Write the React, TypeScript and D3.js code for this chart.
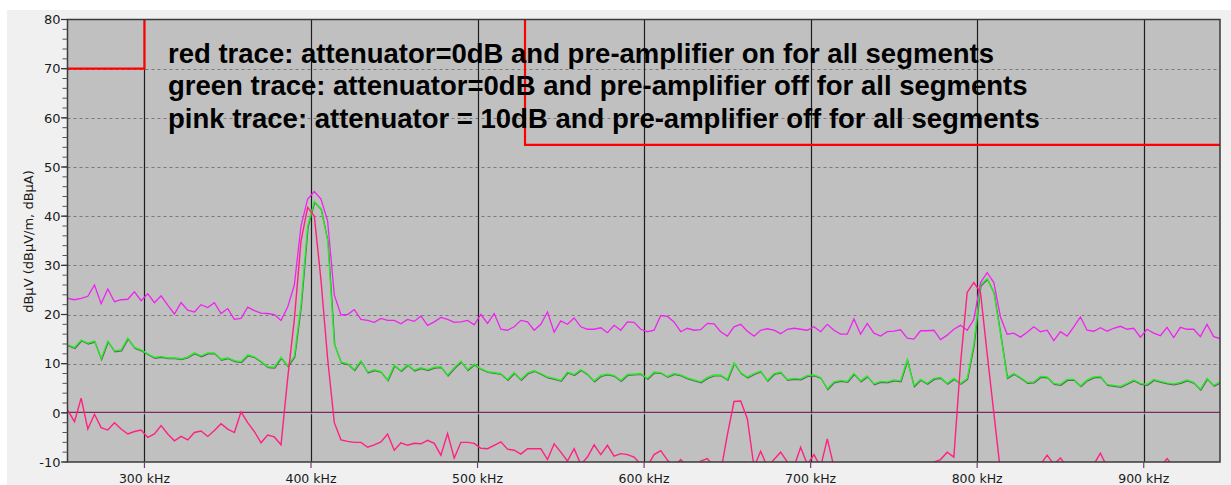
import React from "react";
import * as d3 from "d3";

const FREQ_START = 254;
const FREQ_STEP = 4;

const magentaTrace = [
  23.3, 23.0, 23.3, 23.7, 26.0, 22.2, 25.2, 22.6, 23.0, 23.1, 24.6, 22.8, 24.2, 22.4, 23.8, 21.9, 20.1, 22.4, 20.9, 20.5,
  22.0, 21.4, 22.4, 20.2, 21.2, 19.0, 19.2, 21.5, 20.8, 20.3, 20.2, 20.0, 18.8, 21.5, 26.0, 38.0, 43.5, 45.0, 43.5, 39.0,
  24.0, 19.9, 20.0, 21.0,
  19.0, 18.8, 18.4, 19.2, 18.8, 18.8, 18.1, 19.0, 18.6, 19.7, 17.8, 18.5, 19.4, 19.0, 18.4, 18.5, 18.8, 17.9, 20.0, 18.2,
  20.2, 17.0, 16.8, 17.5, 18.8, 18.5, 16.8, 18.0, 20.5, 16.4, 18.7, 18.0, 19.3, 17.5, 17.0, 17.0, 17.3, 16.3, 17.8, 16.8,
  18.5, 18.4, 17.0,
  16.5, 16.8, 19.8, 19.6, 18.5, 16.5, 17.2, 16.8, 16.9, 18.2, 18.1, 16.5, 15.6, 17.5, 18.0, 16.6, 15.6, 16.8, 17.1, 16.8,
  16.1, 17.0, 17.2, 17.0, 16.8, 17.5, 16.5, 18.0, 16.8, 16.0, 16.0, 19.1, 16.0, 18.2, 16.2, 15.6, 16.5, 16.6, 16.9, 15.2,
  15.0, 16.7, 16.7,
  16.8, 14.9, 15.8, 17.0, 17.8, 16.8, 19.0, 26.5, 28.5, 26.5, 19.5, 16.0, 16.2, 15.4, 16.4, 17.5, 16.5, 16.8, 14.7, 16.5,
  15.6, 17.5, 19.5, 16.8, 16.6, 17.3, 16.6, 17.2, 17.6, 17.0, 17.2, 15.4, 17.0, 16.2, 15.7, 17.4, 15.3, 17.4, 17.0, 17.0,
  15.5, 18.0, 15.5, 15.1,
];

const greenTrace = [
  13.8, 13.3, 14.8, 14.2, 14.6, 11.0, 14.6, 12.6, 12.8, 15.2, 13.3, 12.8, 12.0, 11.3, 11.5, 11.2, 11.2, 11.0, 11.4, 12.2,
  11.6, 12.2, 12.2, 10.9, 11.2, 10.6, 10.4, 11.8, 11.4, 10.5, 9.4, 9.3, 11.3, 9.6, 11.5, 22.0, 38.0, 43.0, 41.5, 35.0,
  14.0, 10.3, 10.0, 8.8,
  10.6, 8.3, 8.8, 8.4, 6.7, 9.7, 8.6, 9.8, 8.7, 9.2, 8.8, 9.3, 9.4, 7.7, 9.2, 10.5, 8.8, 9.9, 9.0, 8.4,
  8.2, 8.0, 6.8, 8.2, 6.8, 8.1, 8.6, 8.0, 7.3, 7.0, 6.6, 8.3, 7.8, 8.8, 7.9, 6.5, 7.6, 7.9, 7.6, 6.6,
  7.8, 7.9, 8.0,
  7.0, 8.3, 8.2, 7.4, 8.0, 7.7, 7.1, 6.7, 6.3, 7.2, 7.7, 7.7, 6.8, 10.2, 8.2, 7.3, 8.0, 8.5, 6.6, 8.0,
  8.3, 6.8, 7.0, 6.9, 7.6, 7.7, 7.2, 4.9, 6.3, 6.6, 6.4, 8.0, 6.5, 7.5, 5.9, 6.4, 6.3, 6.7, 6.5, 10.8,
  5.5, 6.8, 6.0,
  7.0, 7.2, 6.0, 7.0, 6.0, 7.0, 14.0, 26.0, 27.3, 24.5, 16.0, 7.2, 8.0, 7.2, 6.2, 6.3, 7.4, 7.3, 6.0, 5.8,
  6.8, 6.8, 5.5, 6.7, 7.3, 7.4, 5.8, 5.6, 5.4, 6.0, 6.7, 6.0, 5.8, 6.8, 6.4, 6.1, 5.9, 6.2, 6.7, 6.2,
  4.8, 7.0, 5.6, 6.3,
];

const pinkTrace = [
  0.5, -1.8, 3.0, -3.3, -0.3, -3.0, -3.5, -2.0, -3.3, -4.3, -3.8, -3.5, -5.0, -4.3, -2.6, -4.3, -5.7, -4.8, -5.5, -4.0,
  -3.7, -4.8, -3.6, -2.2, -3.3, -4.0, 0.2, -2.0, -3.8, -6.1, -4.5, -4.9, -6.5, 7.0, 19.0, 35.0, 41.8, 40.0, 27.0, 11.0,
  -2.0, -5.5, -5.8, -6.0,
  -6.0, -7.0, -6.5, -5.9, -4.3, -7.6, -6.1, -6.6, -6.2, -6.3, -5.6, -6.2, -8.6, -4.2, -9.2, -6.0, -6.0, -6.2, -7.2, -7.3,
  -6.6, -5.9, -7.4, -7.6, -8.4, -7.3, -7.3, -7.3, -9.5, -6.3, -8.0, -9.8, -7.3, -10.5, -9.0, -6.5, -8.5, -6.6, -8.8, -8.3,
  -8.5, -9.0, -10.5,
  -10.8, -8.5, -7.7, -9.6, -11, -9.5, -11, -11, -9.8, -9.3, -11, -12, -4.5, 2.3, 2.4, -1.2, -11, -7.8, -11, -9.5,
  -8.0, -10, -11, -7.0, -10.5, -8.5, -11, -5.3, -11, -10.5, -11, -11, -10.5, -11, -11, -11.5, -11, -11, -11, -11,
  -11, -11, -11,
  -10, -9.5, -8.0, -9.0, 10, 24.5, 26.5, 24.5, 12, 0, -12, -12, -11, -11, -11, -11, -10.5, -8.6, -10.5, -9.2,
  -11, -11, -10.3, -11, -10.5, -8.2, -11, -11, -11, -11, -11, -11, -11, -11, -11, -9.3, -11, -11, -11, -11,
  -11, -11, -11, -11,
];

const xTicks = [300, 400, 500, 600, 700, 800, 900];
const xTickLabels = ["300 kHz", "400 kHz", "500 kHz", "600 kHz", "700 kHz", "800 kHz", "900 kHz"];
const yTicks = [-10, 0, 10, 20, 30, 40, 50, 60, 70, 80];
const yMinorTicks = d3.range(-10, 81, 2);
const yLabel = "dBµV (dBµV/m, dBµA)";

const limitLeft = [
  [253.8, 70],
  [300, 70],
  [300, 80],
];
const limitRight = [
  [528.5, 80],
  [528.5, 54.5],
  [945.8, 54.5],
];

const annotations = [
  "red trace: attenuator=0dB and pre-amplifier on for all segments",
  "green trace: attenuator=0dB and pre-amplifier off for all segments",
  "pink trace: attenuator = 10dB and pre-amplifier off for all segments",
];

const W = 1231;
const H = 485;
const L = 67.5;
const R = 1220;
const T = 19.5;
const B = 462;

export default function App() {
  const x = d3.scaleLinear().domain([253.8, 945.8]).range([L, R]);
  const y = d3.scaleLinear().domain([-10, 80]).range([B, T]);
  const freqs = magentaTrace.map((_, i) => FREQ_START + i * FREQ_STEP);
  const line = d3
    .line<number>()
    .x((_, i) => x(freqs[i]))
    .y((d) => y(d));
  const lim = d3
    .line<number[]>()
    .x((d) => x(d[0]))
    .y((d) => y(d[1]));

  return (
    <svg
      width={W}
      height={H}
      style={{ position: "absolute", left: 0, top: 0 }}
      fontFamily="'DejaVu Sans', sans-serif"
    >
      <defs>
        <clipPath id="plotclip">
          <rect x={L} y={T} width={R - L} height={B - T} />
        </clipPath>
      </defs>
      <rect x={0} y={0} width={W} height={H} fill="#ffffff" />
      <rect x={7} y={10} width={W - 7} height={H - 10} fill="#f0f0f0" />
      <rect x={L} y={T} width={R - L} height={B - T} fill="#c0c0c0" />

      {/* horizontal dashed grid */}
      {yTicks
        .filter((t) => t !== -10 && t !== 80 && t !== 0)
        .map((t) => (
          <line
            key={"hg" + t}
            x1={L}
            x2={R}
            y1={Math.round(y(t)) + 0.5}
            y2={Math.round(y(t)) + 0.5}
            stroke="#7a7a7a"
            strokeWidth={1}
            strokeDasharray="3,3"
          />
        ))}
      {/* vertical grid */}
      {xTicks.map((t) => (
        <line
          key={"vg" + t}
          x1={Math.round(x(t)) + 0.5}
          x2={Math.round(x(t)) + 0.5}
          y1={T}
          y2={B}
          stroke="#1e1e1e"
          strokeWidth={1.2}
        />
      ))}
      {/* zero line */}
      <line x1={L} x2={R} y1={y(0) - 0.5} y2={y(0) - 0.5} stroke="#8a2a3a" strokeWidth={1.3} />
      <line x1={L} x2={R} y1={y(0) + 1} y2={y(0) + 1} stroke="#a8c8f0" strokeWidth={1} />

      <g clipPath="url(#plotclip)">
        <path
          d={line(greenTrace) || ""}
          fill="none"
          stroke="#5a6a5a"
          strokeWidth={1.2}
          transform="translate(0.5,1)"
        />
        <path d={line(greenTrace) || ""} fill="none" stroke="#22ee22" strokeWidth={1.3} />
        <path d={line(magentaTrace) || ""} fill="none" stroke="#f022f0" strokeWidth={1.3} />
        <path d={line(pinkTrace) || ""} fill="none" stroke="#ff2080" strokeWidth={1.4} />
        <path d={lim(limitLeft) || ""} fill="none" stroke="#ff0000" strokeWidth={2.2} />
        <path d={lim(limitRight) || ""} fill="none" stroke="#ff0000" strokeWidth={2.2} />
      </g>

      <rect x={L} y={T} width={R - L} height={B - T} fill="none" stroke="#3a3a3a" strokeWidth={1.5} />

      {/* y ticks */}
      {yMinorTicks.map((t) => (
        <line key={"ym" + t} x1={62.5} x2={L} y1={y(t)} y2={y(t)} stroke="#555" strokeWidth={1} />
      ))}
      {yTicks.map((t) => (
        <g key={"yt" + t}>
          <line x1={61} x2={L} y1={y(t)} y2={y(t)} stroke="#333" strokeWidth={1.2} />
          <text x={60.5} y={y(t)} dy="0.36em" textAnchor="end" fontSize={13} fill="#1a1a1a">
            {t}
          </text>
        </g>
      ))}
      {/* x ticks */}
      {xTicks.map((t, i) => (
        <g key={"xt" + t}>
          <line x1={x(t)} x2={x(t)} y1={B} y2={B + 6} stroke="#7a3a7a" strokeWidth={1.2} />
          <text x={x(t)} y={483} textAnchor="middle" fontSize={12.5} fill="#1a1a1a">
            {xTickLabels[i]}
          </text>
        </g>
      ))}
      <text
        transform="translate(33,241.5) rotate(-90)"
        textAnchor="middle"
        fontSize={13}
        fill="#1a1a1a"
      >
        {yLabel}
      </text>

      {annotations.map((a, i) => (
        <text
          key={"an" + i}
          x={168}
          y={62.5 + i * 32.5}
          fontFamily="'Liberation Sans', Arial, sans-serif"
          fontWeight="bold"
          fontSize={27.5}
          fill="#000"
        >
          {a}
        </text>
      ))}
    </svg>
  );
}
